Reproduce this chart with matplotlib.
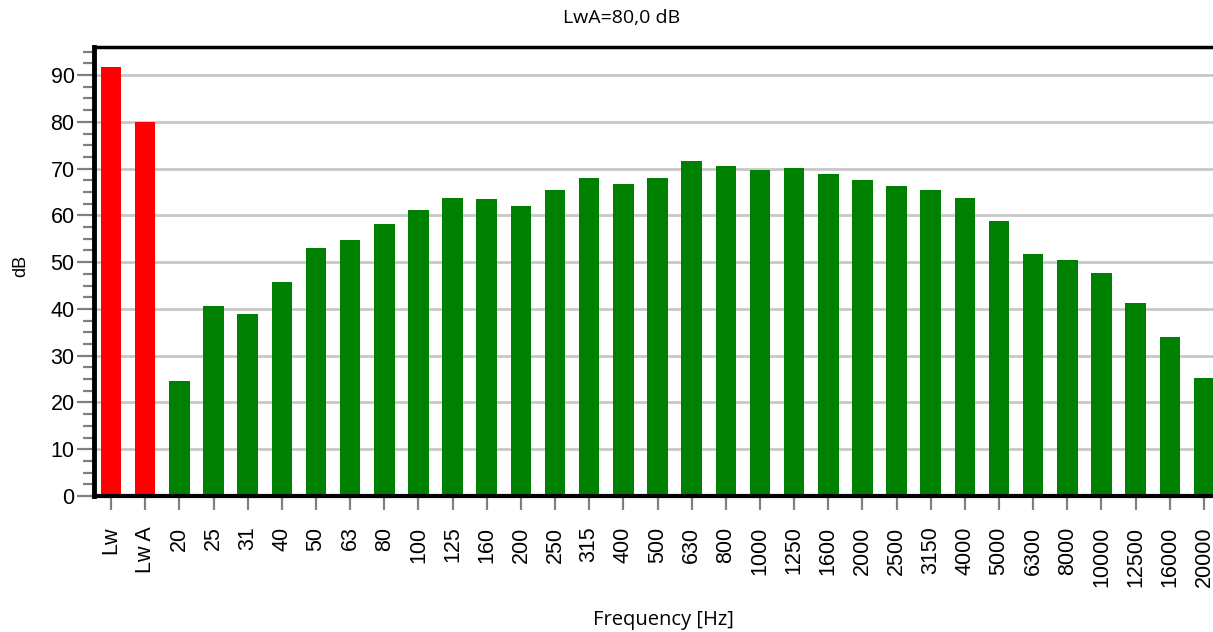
import matplotlib
matplotlib.use("Agg")
import matplotlib.pyplot as plt
from matplotlib.ticker import MultipleLocator

# Sound power spectrum: overall levels followed by 1/3-octave bands
overall_labels = ["Lw", "Lw A"]
overall_values = [91.7, 80.0]

band_labels = ["20", "25", "31", "40", "50", "63", "80", "100", "125", "160",
               "200", "250", "315", "400", "500", "630", "800", "1000", "1250",
               "1600", "2000", "2500", "3150", "4000", "5000", "6300", "8000",
               "10000", "12500", "16000", "20000"]
band_values = [24.5, 40.7, 39.0, 45.8, 53.1, 54.8, 58.2, 61.2, 63.8, 63.4,
               62.1, 65.5, 67.9, 66.7, 67.9, 71.7, 70.5, 69.7, 70.1,
               68.9, 67.5, 66.3, 65.5, 63.7, 58.7, 51.8, 50.5,
               47.7, 41.3, 33.9, 25.3]

lwa_total = 80.0

labels = overall_labels + band_labels
values = overall_values + band_values
colors = ["#ff0000"] * len(overall_values) + ["#008000"] * len(band_values)

W, H = 1213, 632
fig = plt.figure(figsize=(W / 100, H / 100), dpi=100)

left, right, top, bottom = 94, 1221, 47, 496
ax = fig.add_axes([left / W, 1 - bottom / H, (right - left) / W, (bottom - top) / H])

x = list(range(len(labels)))
ax.bar(x, values, width=0.6, color=colors, zorder=3)

ax.set_xlim(-0.5, len(labels) - 0.5)
ax.set_ylim(0, 96)

ax.yaxis.set_major_locator(MultipleLocator(10))
ax.yaxis.set_minor_locator(MultipleLocator(2.5))
ax.grid(axis="y", which="major", color="#c8c8c8", linewidth=2.0, zorder=0)
ax.set_axisbelow(True)

tick_font = "Liberation Sans"
ax.set_xticks(x)
ax.set_xticklabels(labels, rotation=90, fontsize=15.5, family=tick_font)
ax.tick_params(axis="y", which="major", length=12, width=1.6, color="#808080",
               labelsize=15.5, pad=2)
ax.tick_params(axis="y", which="minor", length=8, width=1.6, color="#808080")
ax.tick_params(axis="x", which="major", length=10, width=1.6, color="#808080",
               pad=12)
for lbl in ax.get_yticklabels():
    lbl.set_family(tick_font)

ax.spines["left"].set_linewidth(3.5)
ax.spines["bottom"].set_linewidth(3.0)
ax.spines["top"].set_linewidth(2.5)
ax.spines["right"].set_linewidth(2.5)
for s in ax.spines.values():
    s.set_color("black")
    s.set_zorder(4)

label_font = "Open Sans"
fig.text(622 / W, 1 - 18 / H, f"LwA={lwa_total:.1f} dB".replace(".", ","),
         ha="center", va="center", fontsize=14, family=label_font)
fig.text(663 / W, 1 - 620 / H, "Frequency [Hz]", ha="center", va="center",
         fontsize=14.5, family=label_font)
fig.text(21 / W, 1 - 266 / H, "dB", ha="center", va="center", rotation=90,
         fontsize=13, family=tick_font)

fig.savefig("out.png", dpi=100)
